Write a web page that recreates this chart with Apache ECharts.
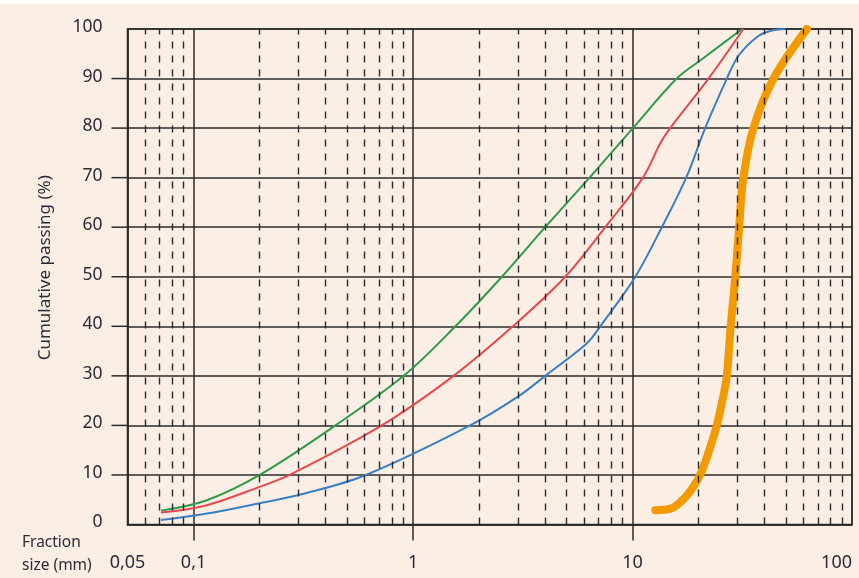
<!DOCTYPE html>
<html>
<head>
<meta charset="utf-8">
<script src="https://cdn.jsdelivr.net/npm/echarts@6/dist/echarts.min.js"></script>
<style>
html,body{margin:0;padding:0;background:#ffffff;}
#chart{position:absolute;left:0;top:4px;width:859px;height:574px;background:#fbeee5;}
</style>
</head>
<body>
<div id="chart"></div>
<script>
// ---- data ----
const xMin = 0.05, xMax = 100;
const xLabelValues = [0.05, 0.1, 1, 10, 100];
const xLabelTexts = ['0,05', '0,1', '1', '10', '100'];
const xMinorLines = [0.06,0.07,0.08,0.09, 0.2,0.3,0.4,0.5,0.6,0.7,0.8,0.9, 2,3,4,5,6,7,8,9, 20,30,40,50,60,70,80,90];
const yTickValues = [10,20,30,40,50,60,70,80,90];

const greenCurve = [[0.071,2.8],[0.115,4.9],[0.2,10],[0.443,20],[0.906,30],[1.56,40],[2.54,50],[4.0,60],[6.37,70],[10.04,80],[15.9,90],[20.7,93.9],[31.6,100]];
const redCurve = [[0.071,2.4],[0.115,3.9],[0.2,7.6],[0.274,10],[0.72,20],[1.53,30],[2.85,40],[4.94,50],[7.51,60],[11.16,70],[13.4,77],[14.85,80],[22.2,90],[32,100]];
const blueCurve = [[0.071,0.9],[0.115,2.2],[0.2,4.3],[0.31,6.1],[0.61,10],[1.82,20],[3.03,25.9],[4.0,30],[6.2,36.6],[7.13,40],[10.3,50],[13.6,60],[17.56,70],[21.43,80],[26.9,90],[30.4,94.6],[36.9,98.4],[42.4,99.6],[49.6,100]];
const orangeCurve = [[12.7,2.9],[14.9,3.2],[17.7,5.9],[20.3,10],[22.6,15.6],[24.2,20],[26,26.2],[26.9,30],[28.0,40],[29.4,50],[30.6,60],[32,70],[35.56,80],[43.9,90],[62.3,100]];

const textColor = '#2a2b36';
const gridColor = '#2b2b2b';
const fontFam = '"Noto Sans", "Open Sans", sans-serif';
const tickLen = 16;

// y tick marks outside the plot, at x = xMin
const outerTicks = yTickValues.map(v => [xMin, v]);

function xLabelFmt(v) {
  for (let i = 0; i < xLabelValues.length; i++) {
    if (Math.abs(Math.log10(v) - Math.log10(xLabelValues[i])) < 1e-3) return xLabelTexts[i];
  }
  return '';
}

function tickRender(params, api) {
  const p = api.coord([api.value(0), api.value(1)]);
  return {
    type: 'rect',
    shape: {x: p[0] - tickLen, y: p[1] - 0.75, width: tickLen, height: 1.5},
    style: {fill: gridColor, stroke: null}
  };
}

const chart = echarts.init(document.getElementById('chart'), null, {renderer: 'canvas'});
const option = {
  backgroundColor: '#fbeee5',
  animation: false,
  title: {
    text: 'Fraction\nsize (mm)',
    left: 22, top: 527, padding: 0,
    textStyle: {fontFamily: fontFam, fontSize: 15.5, fontWeight: 'normal', color: textColor, lineHeight: 23}
  },
  grid: [
    {left: 127.5, right: 7, top: 25, bottom: 53.5,
     show: true, borderColor: gridColor, borderWidth: 1.5, backgroundColor: 'transparent'},
    // thin strip below the plot that carries the downward ticks at 0.1, 1, 10
    {left: 127.5, right: 7, top: 520.5, height: tickLen, show: false}
  ],
  xAxis: [
    {
      type: 'log', logBase: 10, min: xMin, max: xMax, gridIndex: 0,
      axisLine: {show: true, lineStyle: {color: gridColor, width: 1.5}},
      axisTick: {show: false},
      splitLine: {show: true, lineStyle: {color: gridColor, width: 1.5}},
      minorTick: {show: false}, minorSplitLine: {show: false},
      axisLabel: {
        customValues: xLabelValues, formatter: xLabelFmt, margin: 29,
        fontFamily: fontFam, fontSize: 18, color: textColor,
        alignMaxLabel: 'right', showMinLabel: true, showMaxLabel: true
      }
    },
    {
      type: 'log', logBase: 10, min: xMin, max: xMax, gridIndex: 1,
      axisLine: {show: false}, axisTick: {show: false}, axisLabel: {show: false},
      splitLine: {show: true, showMinLine: false, showMaxLine: false,
                  lineStyle: {color: gridColor, width: 1.5}},
      minorTick: {show: false}, minorSplitLine: {show: false}
    }
  ],
  yAxis: [
    {
      type: 'value', min: 0, max: 100, interval: 10, gridIndex: 0,
      name: 'Cumulative passing (%)', nameLocation: 'middle', nameGap: 74,
      nameTextStyle: {fontFamily: fontFam, fontSize: 17, color: textColor, padding: [0,0,0,18]},
      axisLine: {show: true, lineStyle: {color: gridColor, width: 1.5}},
      axisTick: {show: false},
      splitLine: {show: true, lineStyle: {color: gridColor, width: 1.5}},
      axisLabel: {
        margin: 25, verticalAlign: 'bottom', lineHeight: 4,
        fontFamily: fontFam, fontSize: 17.5, color: textColor
      }
    },
    {
      type: 'value', min: 0, max: 1, gridIndex: 1, show: false,
      axisLine: {show: false}, axisTick: {show: false}, axisLabel: {show: false}, splitLine: {show: false}
    }
  ],
  series: [
    {
      type: 'line', data: [], z: 1, silent: true,
      markLine: {
        silent: true, symbol: ['none','none'], animation: false,
        label: {show: false},
        lineStyle: {color: gridColor, width: 1.4, type: [7,7]},
        data: xMinorLines.map(v => ({xAxis: v}))
      }
    },
    {type: 'line', data: [], xAxisIndex: 1, yAxisIndex: 1, silent: true, showSymbol: false},
    {type: 'custom', silent: true, clip: false, z: 5, data: outerTicks,
     encode: {x: 0, y: 1}, renderItem: tickRender},
    {type: 'line', name: 'green', data: greenCurve, smooth: 0.35, showSymbol: false, z: 3,
     lineStyle: {color: '#2f9a4c', width: 2}},
    {type: 'line', name: 'red', data: redCurve, smooth: 0.35, showSymbol: false, z: 3,
     lineStyle: {color: '#e8484f', width: 2}},
    {type: 'line', name: 'blue', data: blueCurve, smooth: 0.35, showSymbol: false, z: 3,
     lineStyle: {color: '#3a7fc3', width: 2}},
    {type: 'line', name: 'orange', data: orangeCurve, smooth: 0.35, showSymbol: false, z: 4,
     lineStyle: {color: '#f39a00', width: 8, cap: 'round'}}
  ]
};
chart.setOption(option);
</script>
</body>
</html>
